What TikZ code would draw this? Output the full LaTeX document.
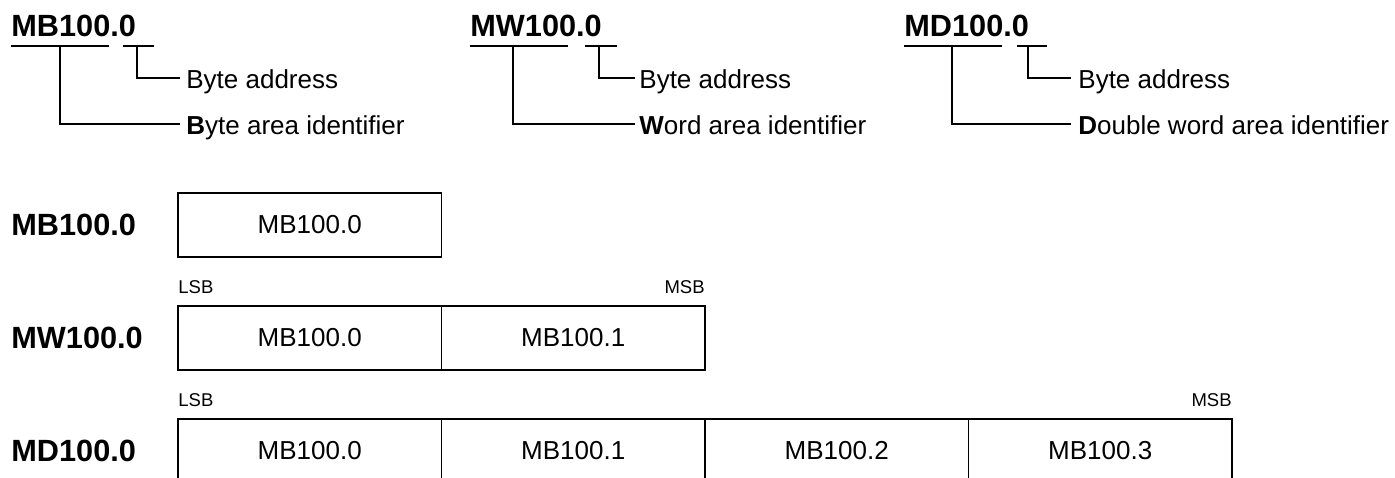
\documentclass[tikz,border=0pt]{standalone}
\usepackage{fontspec}
\setmainfont{Liberation Sans}
\usetikzlibrary{positioning}
\tikzset{
  addr/.style = {anchor=base west, inner sep=0pt, font=\bfseries\fontsize{15.35}{18}\selectfont},
  rowname/.style = {anchor=west, inner sep=0pt, font=\bfseries\fontsize{15.35}{18}\selectfont},
  note/.style = {anchor=west, inner sep=0pt, text height=1.04em, text depth=0pt, font=\fontsize{13}{15}\selectfont},
  cell/.style = {draw, line width=0.6pt, minimum width=131.75pt, minimum height=32pt, inner sep=0pt, outer sep=0pt, font=\fontsize{13}{15}\selectfont},
  bit/.style = {inner sep=0pt, font=\fontsize{9.25}{11}\selectfont},
  lead/.style = {line width=0.6pt}
}
\begin{document}
\begin{tikzpicture}[x=0.5pt, y=-0.5pt]
                \useasboundingbox (0,0) rectangle (1395,477);
                \clip (0,0) rectangle (1395,477);
                % byte address
                \node[addr] (tB) at (11,36) {MB100.0};
                \draw[lead] (11,46) -- (109,46);
                \draw[lead] (123,46) -- (154,46);
                \node[note] (aB) at (186,78) {Byte address};
                \node[note] (iB) at (186,124) {\textbf{B}yte area identifier};
                \draw[lead] (137,46) |- ([xshift=-3pt]aB.west);
                \draw[lead] (60,46) |- ([xshift=-3pt]iB.west);
                % word address
                \node[addr] (tW) at (470,36) {MW100.0};
                \draw[lead] (470,46) -- (568,46);
                \draw[lead] (585,46) -- (617,46);
                \node[note] (aW) at (639,78) {Byte address};
                \node[note] (iW) at (639,124) {\textbf{W}ord area identifier};
                \draw[lead] (599,46) |- ([xshift=-2pt]aW.west);
                \draw[lead] (513,46) |- ([xshift=-2pt]iW.west);
                % double word address
                \node[addr] (tD) at (904,36) {MD100.0};
                \draw[lead] (904,46) -- (1002,46);
                \draw[lead] (1017,46) -- (1047,46);
                \node[note] (aD) at (1078,78) {Byte address};
                \node[note] (iD) at (1078,124) {\textbf{D}ouble word area identifier};
                \draw[lead] (1028,46) |- ([xshift=-3.5pt]aD.west);
                \draw[lead] (952,46) |- ([xshift=-3.5pt]iD.west);
                % byte
                \node[cell, anchor=north west] (b1) at (178,193) {MB100.0};
                \node[rowname] (rB) at ([xshift=-83.5pt]b1.west) {MB100.0};
                % word
                \node[cell, anchor=north west] (w1) at (178,306) {MB100.0};
                \node[cell, right=0pt of w1] (w2) {MB100.1};
                \node[rowname] (rW) at ([xshift=-83.5pt]w1.west) {MW100.0};
                \node[bit, above right=6pt and 0pt of w1.north west] (lW) {LSB};
                \node[bit, above left=6pt and 0pt of w2.north east] (mW) {MSB};
                % double word
                \node[cell, anchor=north west] (d1) at (178,419) {MB100.0};
                \node[cell, right=0pt of d1] (d2) {MB100.1};
                \node[cell, right=0pt of d2] (d3) {MB100.2};
                \node[cell, right=0pt of d3] (d4) {MB100.3};
                \node[rowname] (rD) at ([xshift=-83.5pt]d1.west) {MD100.0};
                \node[bit, above right=6pt and 0pt of d1.north west] (lD) {LSB};
                \node[bit, above left=6pt and 0pt of d4.north east] (mD) {MSB};
            \end{tikzpicture}
\end{document}
